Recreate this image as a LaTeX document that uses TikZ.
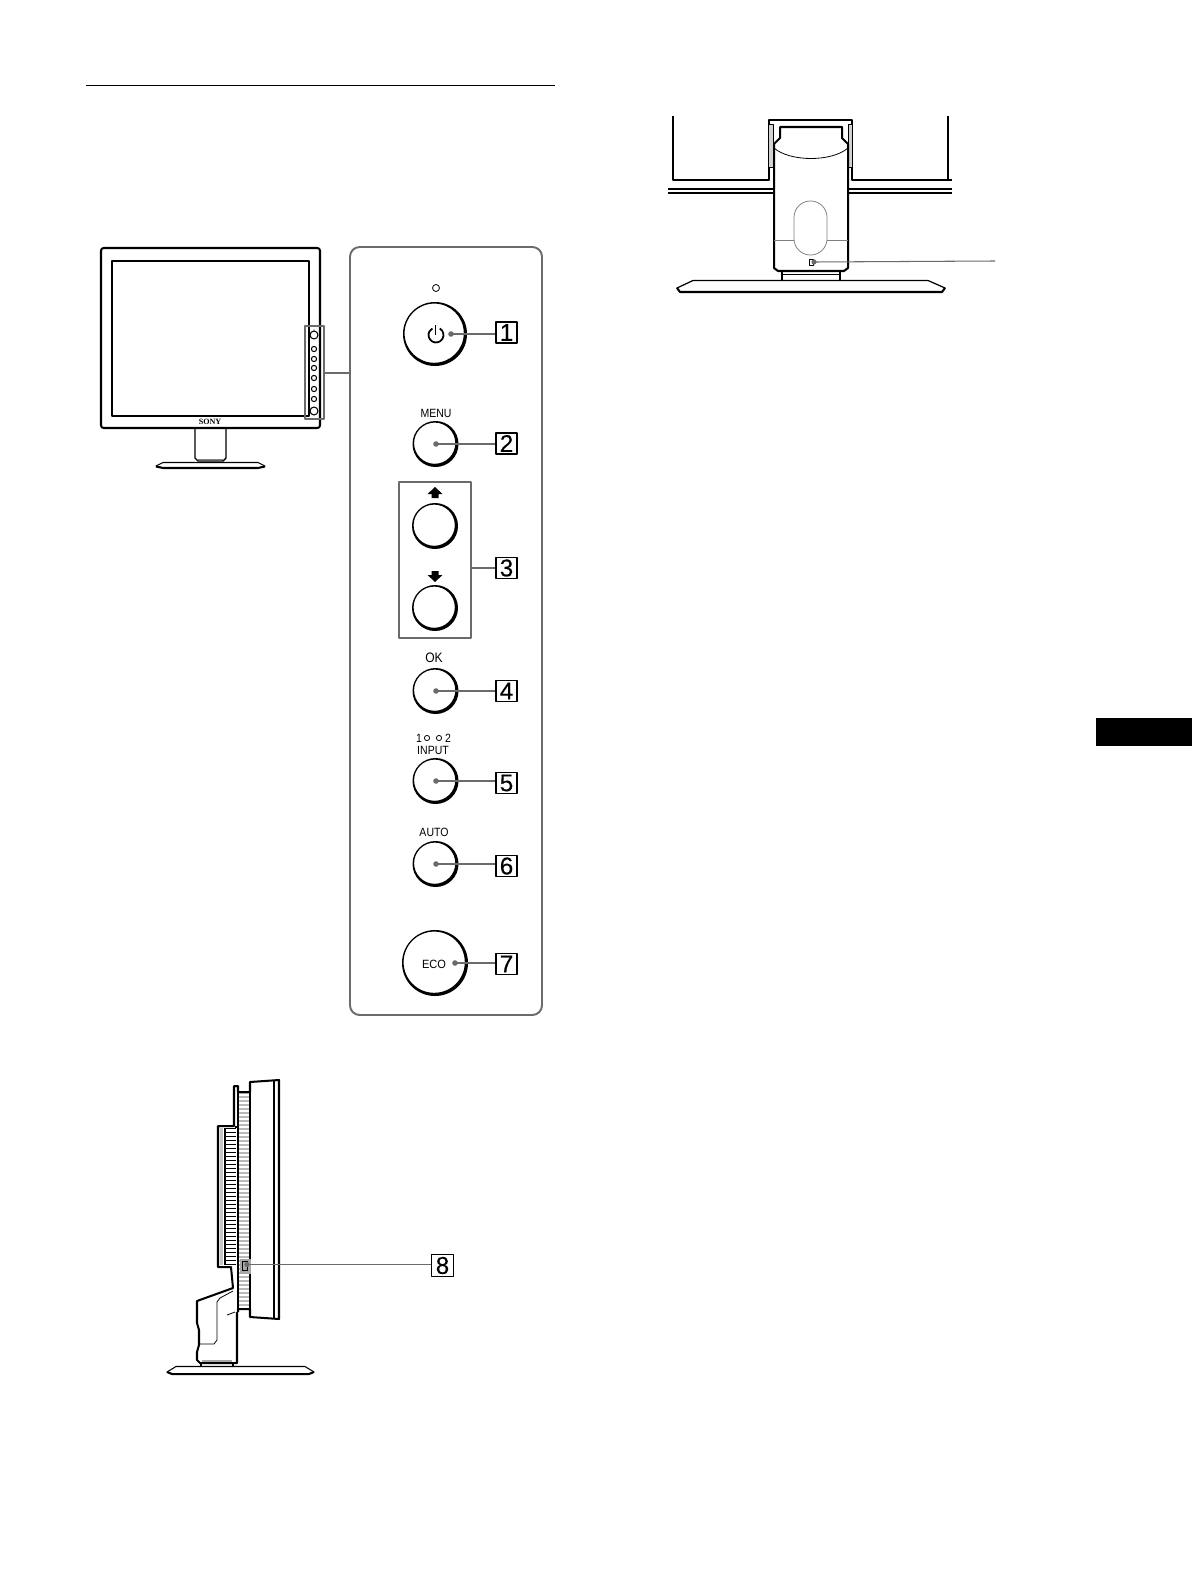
\documentclass[tikz,border=0pt]{standalone}
\usepackage{fontspec}
\setmainfont{Liberation Sans}
\newfontfamily\logofont{Liberation Serif}
\newfontfamily\tagfont[FakeBold=0.25]{Liberation Sans}
\definecolor{leadgray}{gray}{0.42}
\begin{document}
\begin{tikzpicture}[x=0.02cm, y=-0.02cm, line join=round,
	heavy/.style={line width=1.15pt},
	medium/.style={line width=0.8pt},
	fine/.style={line width=0.45pt},
	lead/.style={leadgray, line width=0.95pt},
	leadthin/.style={leadgray, line width=0.6pt},
	tagbox/.style={draw, line width=0.75pt, minimum size=11.9pt, inner sep=0pt, font=\tagfont\fontsize{13.8}{14}\selectfont},
	caption/.style={inner sep=0pt, xscale=0.88, font=\fontsize{6.8}{7}\selectfont}]
	\useasboundingbox (0,0) rectangle (1192,1588);
	\draw[line width=0.45pt] (86,85) -- (555,85);
	\fill (1096,718) rectangle (1192,746);
	% front view
	\draw[heavy, rounded corners=1.5pt] (101,248) rectangle (320,428);
	\draw[line width=0.65pt] (112,261) rectangle (309,416);
	\draw[medium] (195,428) -- (195,458) -- (198,461) -- (223,461) -- (226,458) -- (226,428);
	\draw[gray, fine] (198,459) -- (223,459);
	\draw[line width=0.6pt] (156,466) -- (163,462.5) -- (258,462.5) -- (265,466) -- (258,468) -- (163,468) -- cycle;
	\draw[heavy] (156,466.5) -- (163,468) -- (258,468) -- (265,466.5);
	\node[inner sep=0pt, font=\logofont\bfseries\fontsize{4.6}{4}\selectfont] (logo) at (210,421.5) {SONY};
	\foreach \y/\r in {335/4,349/2.6,359/2.6,368/2.6,378/2.6,389/2.6,399/2.6,411/4}
		\draw[line width=0.6pt] (314,\y) circle (\r);
	\fill (314,330) circle (0.7);
	\draw[leadgray, line width=0.9pt] (305,326) rectangle (324,419);
	\coordinate (mini) at (324,373);
	% panel
	\draw[leadgray, line width=1.1pt, rounded corners=5.5pt] (350,247) rectangle (542,1015);
	\coordinate (panel) at (350,373);
	\draw[leadthin, line width=0.8pt] (mini) -- (panel);
	\draw[fine] (436,288) circle (3.5);
	\foreach \x/\y/\r in {435/334/32,435.5/444/23,435/526/23,435/608/23,435.5/691/23,435.5/781/23,435.5/864/23,435/963/33}
		\fill[even odd rule] (\x,\y) circle (\r) (\x-0.8,\y-0.8) circle (\r-2.4);
	\draw[line width=1pt] (439.75,328.5) arc (-60:240:7.5);
	\draw[line width=1pt] (435.5,325) -- (435.5,335);
	\fill (435,487) -- (442.5,494) -- (438.5,494) -- (438.5,498) -- (431.5,498) -- (431.5,494) -- (427.5,494) -- cycle;
	\fill (435,582) -- (442.5,575) -- (438.5,575) -- (438.5,571) -- (431.5,571) -- (431.5,575) -- (427.5,575) -- cycle;
	\draw[leadgray, line width=0.7pt] (399,482) rectangle (471,638);
	\node[caption] (menu) at (436,413) {MENU};
	\node[caption, xscale=1, font=\fontsize{7.8}{8}\selectfont] (ok) at (434,658) {OK};
	\node[caption] (one) at (419,738) {1};
	\node[caption] (two) at (448,738) {2};
	\draw[fine] (427,738) circle (2.6);
	\draw[fine] (439,738) circle (2.6);
	\node[caption] (input) at (433,750) {INPUT};
	\node[caption] (auto) at (434,832) {AUTO};
	\node[caption, xscale=1.05] (eco) at (434,964) {ECO};
	\foreach \n/\x/\y/\t/\s in {1/451/334/332.5/lead,2/436/444/443.5/lead,4/436/691/691/lead,5/436/781/783/leadthin,6/436/864/866/lead,7/455/963/964/leadthin} {
		\node[tagbox] (tag\n) at (506.5,\t) {\n};
		\fill[leadgray] (\x,\y) circle (2.8);
		\coordinate (dot\n) at (\x,\y);
		\draw[\s] (dot\n) -- (dot\n -| tag\n.west);
	}
	\node[tagbox] (tag3) at (506.5,568) {3};
	\coordinate (group) at (471,568);
	\draw[lead] (group) -- (tag3);
	% side view
	\foreach \y in {1093,1097,...,1308}
		\draw[gray!55, line width=1.1pt] (238,\y) -- (250,\y);
	\foreach \y in {1128,1132,...,1264}
		\draw[line width=0.55pt] (225,\y) -- (236,\y);
	\fill[gray!45] (220,1128) rectangle (223,1265);
	\draw[heavy] (250,1092) -- (250,1082) -- (279,1080) -- (279,1319) -- (250,1317) -- (250,1309) -- (238,1309) -- (238,1312);
	\draw[heavy] (250,1092) -- (238,1092) -- (238,1086) -- (234,1086) -- (234,1126) -- (218,1126) -- (218,1267) -- (231,1267) -- (233,1288) -- (197,1301) -- (197,1323) -- (199,1330) -- (199,1345) -- (197,1352) -- (197,1360) -- (200,1363) -- (237,1363) -- (237,1312);
	\draw[medium] (238,1092) -- (238,1309) (250,1092) -- (250,1309);
	\draw[medium] (274,1081) -- (274,1318);
	\draw[fine] (233,1291) -- (220,1298) -- (217,1302) -- (217,1340) -- (214,1344) -- (199,1344);
	\draw[fine] (227,1315) -- (235,1312);
	\draw[medium] (225,1128) -- (225,1265) (236,1128) -- (236,1126);
	\draw[medium] (201,1363) -- (201,1366) (233,1363) -- (233,1366);
	\draw[gray!70, line width=0.7pt] (202,1361) -- (232,1361);
	\draw[line width=0.6pt] (167,1372) -- (176,1366.5) -- (305,1366.5) -- (314,1372) -- (309,1374) -- (172,1374) -- cycle;
	\draw[heavy] (167,1372) -- (172,1374) -- (309,1374) -- (314,1372);
	\draw[fill=white, gray!70, line width=0.4pt] (240,1259) rectangle (250,1273);
	\draw[line width=0.55pt] (242,1261) rectangle (247,1270);
	\fill[leadgray] (247,1264.5) circle (2.6);
	\coordinate (dot8) at (247,1264.5);
	\node[tagbox, minimum size=12.4pt] (tag8) at (442.5,1265.5) {8};
	\draw[leadthin] (dot8) -- (dot8 -| tag8.west);
	% rear view
	\draw[medium] (673,116) -- (673,180) -- (769,180) -- (769,120) -- (852,120) -- (852,180) -- (952,180);
	\draw[medium] (948,116) -- (948,180);
	\draw[fill=gray!35, fine] (769,124) -- (773,124) -- (773,167) -- (769,167);
	\draw[fill=gray!35, fine] (852,124) -- (848,124) -- (848,167) -- (852,167);
	\draw[medium] (668,189) -- (774,189) (848,189) -- (952,189);
	\draw[heavy] (668,193) -- (774,193) (848,193) -- (952,193);
	\draw[heavy] (780,138) -- (780,127) -- (842,127) -- (842,138) -- (848,144) -- (848,268) -- (844,271) -- (778,271) -- (774,268) -- (774,144) -- cycle;
	\draw[fine] (774,148) .. controls (790,162) and (832,162) .. (848,148);
	\draw[gray, fine, rounded corners=9.3pt] (794,201) rectangle (827,255);
	\draw[gray, fine] (774,240) -- (794,240) (827,240) -- (848,240);
	\draw[medium] (782,271) -- (782,280) (840,271) -- (840,280);
	\draw[fine] (782,274) -- (840,274);
	\draw[line width=0.7pt] (677,288) -- (693,280.5) -- (928,280.5) -- (945,288) -- (942,292) -- (680,292) -- cycle;
	\draw[heavy] (677,288) -- (680,292) -- (942,292) -- (945,288);
	\draw[fine] (809,259) rectangle (813,265);
	\fill[leadgray] (814,262) circle (2.6);
	\coordinate (dot9) at (814,262);
	\coordinate (free9) at (995,261);
	\draw[leadthin] (dot9) -- (free9);
\end{tikzpicture}
\end{document}
